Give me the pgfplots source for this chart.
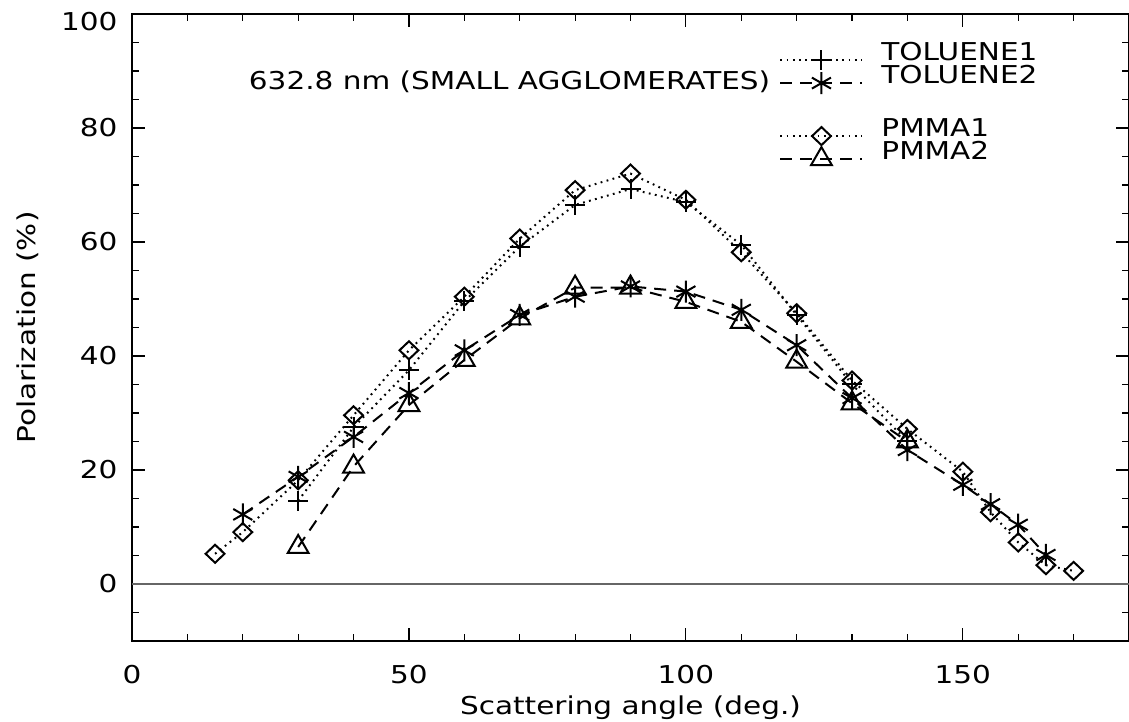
\documentclass[border=0pt]{standalone}
\usepackage{fontspec}
\setmainfont{DejaVu Sans}[FakeStretch=1.2]
\usepackage{pgfplots}
\pgfplotsset{compat=1.18}
\begin{document}
\fontsize{12.3bp}{14bp}\selectfont
\begin{tikzpicture}
\begin{axis}[
  scale only axis, width=498.5bp, height=313.5bp,
  xmin=0, xmax=180, ymin=-10, ymax=100,
  xtick={0,50,100,150}, minor xtick={0,10,...,180},
  ytick={0,20,...,80}, minor ytick={-10,-5,...,100},
  extra y ticks={100}, extra y tick style={yticklabel style={yshift=-4bp}},
  tick align=inside, major tick length=6.5bp, minor tick length=3.5bp,
  axis line style={line width=0.6bp},
  every tick/.style={black, line width=0.6bp},
  /pgf/number format/assume math mode=true,
  ticklabel style={font=\fontsize{12.3bp}{14bp}\selectfont},
  xticklabel style={yshift=-8bp},
  yticklabel style={xshift=-3bp},
  label style={font=\fontsize{12.3bp}{14bp}\selectfont},
  xlabel={Scattering angle (deg.)}, ylabel={Polarization (\%)},
  xlabel style={at={(axis description cs:0.5,-0.106)}, anchor=center},
  ylabel style={at={(axis description cs:-0.1043,0.5)}, anchor=center},
  legend style={at={(axis cs:117,95)}, anchor=north west, draw=none, fill=none,
    inner sep=0pt, row sep=2.9bp, column sep=9.5bp,
    nodes={inner ysep=0pt, inner xsep=0pt, text height=8.6bp, text depth=0pt},
    font=\fontsize{12.3bp}{14bp}\selectfont},
  legend cell align=left,
  legend image code/.code={\draw[overlay, mark repeat=2, mark phase=2, #1] plot coordinates {(0bp,-4.3bp) (20.5bp,-4.3bp) (41bp,-4.3bp)}; \path[draw=none, fill=none] (0bp,-4.3bp) rectangle (41bp,4.3bp);},
]
\draw[black!60, line width=0.6bp] (axis cs:0,0) -- (axis cs:180,0);

\addplot[black, line width=1bp, dash pattern=on 0.9bp off 2.2bp, mark=+, mark size=5bp, mark options={solid, line width=1bp}]
coordinates {(30,14.6)(40,27.5)(50,37.5)(60,49.6)(70,59.2)(80,66.5)(90,69.3)(100,67)(110,59.5)(120,47.2)(130,35)(140,25)};
\addlegendentry{TOLUENE1}

\addplot[black, line width=1bp, dash pattern=on 6bp off 4bp, mark=asterisk, mark size=5.5bp, mark options={solid, line width=1bp}]
coordinates {(20,12.2)(30,18.8)(40,25.8)(50,33.5)(60,41)(70,47.2)(80,50.4)(90,52.2)(100,51.3)(110,48.1)(120,41.9)(130,32.6)(140,23.5)(150,17.4)(155,14)(160,10.4)(165,5.1)};
\addlegendentry{TOLUENE2}

\addlegendimage{empty legend}
\addlegendentry[text height=12.1bp]{}

\addplot[black, line width=1bp, dash pattern=on 0.9bp off 2.2bp, mark=diamond, mark size=4.5bp, mark options={solid, line width=1bp, xscale=1.4}]
coordinates {(15,5.3)(20,9.1)(30,18.2)(40,29.6)(50,41)(60,50.4)(70,60.6)(80,69.1)(90,72)(100,67.4)(110,58.2)(120,47.5)(130,35.7)(140,27.2)(150,19.7)(155,12.6)(160,7.3)(165,3.3)(170,2.3)};
\addlegendentry{PMMA1}

\addplot[black, line width=1bp, dash pattern=on 6bp off 4bp, mark=triangle, mark size=6bp, mark options={solid, line width=1bp}]
coordinates {(30,6.5)(40,20.6)(50,31.4)(60,39.3)(70,46.6)(80,52)(90,52)(100,49.5)(110,46)(120,39)(130,31.7)(140,25)};
\addlegendentry{PMMA2}

\node[anchor=base east, inner sep=0pt] at (axis cs:115.3,86.7) {632.8 nm (SMALL AGGLOMERATES)};
\end{axis}
\pgfresetboundingbox
\path ([xshift=-66bp,yshift=-40.5bp]current axis.south west) rectangle ([yshift=7bp]current axis.north east);
\end{tikzpicture}
\end{document}
